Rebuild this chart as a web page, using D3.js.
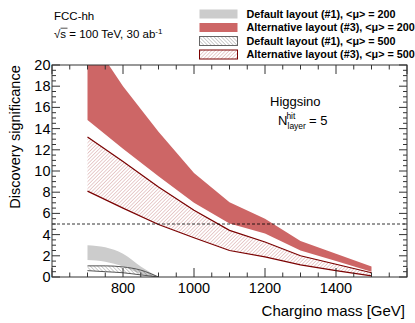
<!DOCTYPE html>
<html><head><meta charset="utf-8">
<script src="https://cdn.jsdelivr.net/npm/d3@7"></script>
<style>body{margin:0;background:#fff}svg{display:block;font-family:"Liberation Sans",Arial,sans-serif}</style>
</head><body><svg id="c" width="415" height="323"></svg>
<script>
// Alternative layout (#3), <mu>=200
const massAlt = [700, 800, 900, 1000, 1100, 1200, 1300, 1400, 1500];
const alt200Hi = [23.0, 18.0, 13.7, 9.8, 7.05, 5.5, 3.4, 2.2, 1.0];
const alt200Lo = [14.8, 12.1, 9.5, 7.0, 5.05, 4.1, 2.5, 1.5, 0.5];
// Alternative layout (#3), <mu>=500
const alt500Hi = [13.2, 10.9, 8.5, 6.3, 4.4, 3.3, 2.0, 1.2, 0.4];
const alt500Lo = [8.1, 6.5, 4.95, 3.7, 2.5, 1.9, 1.15, 0.6, 0.1];
// Default layout (#1)
const massDef = [700, 750, 800, 850, 900];
const def200Hi = [3.0, 2.8, 2.2, 1.0, 0.0];
const def200Lo = [1.6, 1.45, 1.0, 0.3, 0.0];
const def500Hi = [1.05, 1.05, 0.95, 0.65, 0.0];
const def500Lo = [0.6, 0.5, 0.4, 0.2, 0.0];
const xTicks = [800, 1000, 1200, 1400];
const yTicks = [0, 2, 4, 6, 8, 10, 12, 14, 16, 18, 20];
const legendLabels = ["Default layout (#1), <μ> = 200", "Alternative layout (#3), <μ> = 200",
  "Default layout (#1), <μ> = 500", "Alternative layout (#3), <μ> = 500"];

const svg = d3.select("#c");
const L = 52, R = 407, T = 65, B = 277;
const x = d3.scaleLinear().domain([600, 1600]).range([L, R]);
const y = d3.scaleLinear().domain([0, 20]).range([B, T]);

const defs = svg.append("defs");
defs.append("clipPath").attr("id", "clip").append("rect")
  .attr("x", L).attr("y", T).attr("width", R - L).attr("height", B - T);
function hatch(id, color, dir, sp, w) {
  const p = defs.append("pattern").attr("id", id).attr("patternUnits", "userSpaceOnUse")
    .attr("width", sp).attr("height", sp)
    .attr("patternTransform", "rotate(" + (dir > 0 ? 45 : -45) + ")");
  p.append("line").attr("x1", 0).attr("y1", 0).attr("x2", 0).attr("y2", sp)
    .attr("stroke", color).attr("stroke-width", w);
}
hatch("hAlt", "#b55a5a", 1, 2.5, 0.6);
hatch("hDef", "#555", -1, 2.6, 0.6);

const red = "#cd6666", grey = "#cccccc", dred = "#7a0000", dgrey = "#555";
const g = svg.append("g").attr("clip-path", "url(#clip)");

function band(xs, hi, lo, curve) {
  const d = xs.map((m, i) => ({m, hi: hi[i], lo: lo[i]}));
  return {d, area: d3.area().x(p => x(p.m)).y0(p => y(p.lo)).y1(p => y(p.hi)).curve(curve),
    lineHi: d3.line().x(p => x(p.m)).y(p => y(p.hi)).curve(curve),
    lineLo: d3.line().x(p => x(p.m)).y(p => y(p.lo)).curve(curve)};
}
const lin = d3.curveLinear, sm = d3.curveMonotoneX;
const bA2 = band(massAlt, alt200Hi, alt200Lo, lin);
g.append("path").attr("d", bA2.area(bA2.d)).attr("fill", red);
const bA5 = band(massAlt, alt500Hi, alt500Lo, lin);
g.append("path").attr("d", bA5.area(bA5.d)).attr("fill", "url(#hAlt)");
g.append("path").attr("d", bA5.lineHi(bA5.d)).attr("fill", "none").attr("stroke", dred).attr("stroke-width", 1.2);
g.append("path").attr("d", bA5.lineLo(bA5.d)).attr("fill", "none").attr("stroke", dred).attr("stroke-width", 1.2);
const bD2 = band(massDef, def200Hi, def200Lo, sm);
g.append("path").attr("d", bD2.area(bD2.d)).attr("fill", grey);
const bD5 = band(massDef, def500Hi, def500Lo, sm);
g.append("path").attr("d", bD5.area(bD5.d)).attr("fill", "url(#hDef)");
g.append("path").attr("d", bD5.lineHi(bD5.d)).attr("fill", "none").attr("stroke", dgrey).attr("stroke-width", 1);
g.append("path").attr("d", bD5.lineLo(bD5.d)).attr("fill", "none").attr("stroke", dgrey).attr("stroke-width", 1);

// 5 sigma line
svg.append("line").attr("x1", L).attr("x2", R).attr("y1", y(5)).attr("y2", y(5))
  .attr("stroke", "#000").attr("stroke-width", 0.8).attr("stroke-dasharray", "3,2");

// frame and ticks
const ax = svg.append("g").attr("stroke", "#333").attr("stroke-width", 1);
ax.append("rect").attr("x", L).attr("y", T).attr("width", R - L).attr("height", B - T).attr("fill", "none");
const xMinor = d3.range(600, 1601, 50);
xMinor.forEach(v => {
  const len = v % 200 === 0 ? 9 : 4.5;
  ax.append("line").attr("x1", x(v)).attr("x2", x(v)).attr("y1", B).attr("y2", B - len);
  ax.append("line").attr("x1", x(v)).attr("x2", x(v)).attr("y1", T).attr("y2", T + len);
});
const yMinor = d3.range(0, 20.01, 0.5);
yMinor.forEach(v => {
  const len = Math.abs(v % 2) < 1e-6 ? 8 : 4;
  ax.append("line").attr("y1", y(v)).attr("y2", y(v)).attr("x1", L).attr("x2", L + len);
  ax.append("line").attr("y1", y(v)).attr("y2", y(v)).attr("x1", R).attr("x2", R - len);
});
svg.append("g").selectAll("text").data(xTicks).join("text")
  .attr("x", d => x(d)).attr("y", 293).attr("text-anchor", "middle")
  .attr("font-size", 14.5).attr("fill", "#000").text(d => d);
svg.append("g").selectAll("text").data(yTicks).join("text")
  .attr("x", 50.5).attr("y", d => y(d) + 5).attr("text-anchor", "end")
  .attr("font-size", 14.5).attr("fill", "#000").text(d => d);

svg.append("text").attr("x", 405).attr("y", 316).attr("text-anchor", "end")
  .attr("font-size", 15).text("Chargino mass [GeV]");
svg.append("text").attr("transform", "translate(19.5,137) rotate(-90)").attr("text-anchor", "middle")
  .attr("font-size", 14.5).text("Discovery significance");

// labels
svg.append("text").attr("x", 54).attr("y", 19.5).attr("font-size", 11.5).text("FCC-hh");
const s2 = svg.append("text").attr("x", 54).attr("y", 38).attr("font-size", 11.5);
s2.append("tspan").text("√s = 100 TeV, 30 ab");
s2.append("tspan").attr("dy", -4).attr("font-size", 8).text("-1");
svg.append("line").attr("x1", 60.5).attr("x2", 67.5).attr("y1", 28.2).attr("y2", 28.2).attr("stroke", "#000").attr("stroke-width", 0.7);

svg.append("text").attr("x", 270).attr("y", 106).attr("font-size", 13).text("Higgsino");
const nl = svg.append("text").attr("x", 278).attr("y", 125).attr("font-size", 13);
nl.append("tspan").text("N");
nl.append("tspan").attr("font-size", 8.5).attr("dy", -6).attr("dx", -1).text("hit");
nl.append("tspan").attr("font-size", 8.5).attr("x", 287.5).attr("dy", 9.5).text("layer");
nl.append("tspan").attr("dy", -3.5).attr("dx", 3).text("= 5");

// legend
const lg = svg.append("g");
const rowsY = [14, 27.5, 41, 54.5];
const styles = [
  {fill: grey, stroke: "none"}, {fill: red, stroke: "none"},
  {fill: "url(#hDef)", stroke: "#666"}, {fill: "url(#hAlt)", stroke: dred}];
legendLabels.forEach((t, i) => {
  lg.append("rect").attr("x", 199.5).attr("y", rowsY[i] - 4.5).attr("width", 38).attr("height", 9)
    .attr("fill", styles[i].fill).attr("stroke", styles[i].stroke).attr("stroke-width", 1);
  lg.append("text").attr("x", 246.5).attr("y", rowsY[i] + 3.8).attr("font-size", 10.8)
    .attr("font-weight", "bold").text(t);
});
</script></body></html>
